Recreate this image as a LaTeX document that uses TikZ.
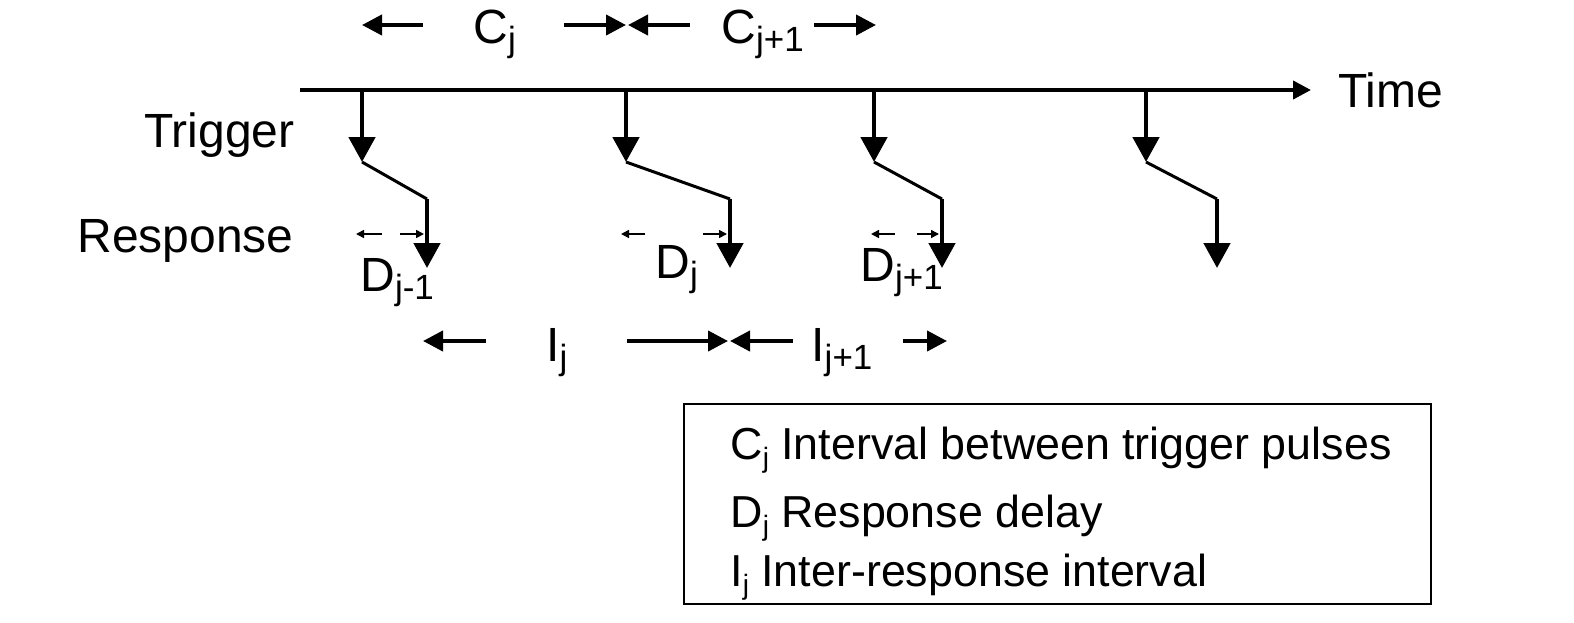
\documentclass[tikz,border=0pt]{standalone}
\usepackage{fontspec}
\setmainfont{Liberation Sans}
\usetikzlibrary{arrows.meta}
\newcommand{\lowidx}[1]{\raisebox{-0.35ex}{\fontsize{17.5}{17.5}\selectfont #1}}
\newcommand{\keyidx}[1]{\raisebox{-0.35ex}{\fontsize{14}{14}\selectfont #1}}

\begin{document}
\begin{tikzpicture}[x=0.5pt, y=-0.5pt,
    lbl/.style={inner sep=0pt, font=\fontsize{24}{28}\selectfont},
    keytext/.style={inner sep=0pt, anchor=base west, font=\fontsize{22.4}{26}\selectfont},
    interval/.style={line width=2pt, -{Triangle[length=10pt, width=10pt]}},
    pulse/.style={line width=2.4pt, -{Triangle[length=12.5pt, width=13pt]}},
    slant/.style={line width=1.5pt},
    lag/.style={line width=0.8pt, -{Triangle[length=4pt, width=4pt]}}]
    \useasboundingbox (0, 0) rectangle (1574, 622);

    \coordinate (axs) at (300, 90);
    \coordinate (axe) at (1311, 90);
    \draw[line width=2pt, -{Triangle[length=9pt, width=9pt]}] (axs) -- (axe);
    \node[lbl, anchor=base west] (time) at (1338, 107) {Time};
    \node[lbl, anchor=base east] (trigger) at (295, 147) {Trigger};
    \node[lbl, anchor=base east] (response) at (294, 252) {Response};

    \coordinate (tr1) at (362, 90);   \coordinate (tt1) at (362, 162);
    \coordinate (tr2) at (626, 90);   \coordinate (tt2) at (626, 162);
    \coordinate (tr3) at (874, 90);   \coordinate (tt3) at (874, 162);
    \coordinate (tr4) at (1146, 90);  \coordinate (tt4) at (1146, 162);
    \coordinate (kn1) at (427, 199);  \coordinate (rt1) at (427, 268);
    \coordinate (kn2) at (730, 199);  \coordinate (rt2) at (730, 268);
    \coordinate (kn3) at (942, 199);  \coordinate (rt3) at (942, 268);
    \coordinate (kn4) at (1217, 199); \coordinate (rt4) at (1217, 268);

    \draw[pulse] (tr1) -- (tt1);
    \draw[pulse] (tr2) -- (tt2);
    \draw[pulse] (tr3) -- (tt3);
    \draw[pulse] (tr4) -- (tt4);
    \draw[slant] (tt1) -- (kn1);
    \draw[slant] (tt2) -- (kn2);
    \draw[slant] (tt3) -- (kn3);
    \draw[slant] (tt4) -- (kn4);
    \draw[pulse] (kn1) -- (rt1);
    \draw[pulse] (kn2) -- (rt2);
    \draw[pulse] (kn3) -- (rt3);
    \draw[pulse] (kn4) -- (rt4);

    \node[lbl, anchor=base west] (cj) at (473, 43) {C\lowidx{j}};
    \node[lbl, anchor=base west] (cj1) at (721, 43) {C\lowidx{j+1}};
    \coordinate (c1) at (362, 25);  \coordinate (c1t) at (423, 25);
    \coordinate (c2) at (626, 25);  \coordinate (c2t) at (564, 25);
    \coordinate (c3) at (628, 25);  \coordinate (c3t) at (690, 25);
    \coordinate (c4) at (876, 25);  \coordinate (c4t) at (814, 25);
    \draw[interval] (c1t) -- (c1);
    \draw[interval] (c2t) -- (c2);
    \draw[interval] (c3t) -- (c3);
    \draw[interval] (c4t) -- (c4);

    \coordinate (d1) at (356, 234);  \coordinate (d1t) at (382, 234);
    \coordinate (d2) at (424, 234);  \coordinate (d2t) at (400, 234);
    \coordinate (d3) at (621, 234);  \coordinate (d3t) at (645, 234);
    \coordinate (d4) at (727, 234);  \coordinate (d4t) at (703, 234);
    \coordinate (d5) at (871, 234);  \coordinate (d5t) at (895, 234);
    \coordinate (d6) at (939, 234);  \coordinate (d6t) at (917, 234);
    \draw[lag] (d1t) -- (d1);
    \draw[lag] (d2t) -- (d2);
    \draw[lag] (d3t) -- (d3);
    \draw[lag] (d4t) -- (d4);
    \draw[lag] (d5t) -- (d5);
    \draw[lag] (d6t) -- (d6);
    \node[lbl, anchor=base west] (dj0) at (360, 291) {D\lowidx{j-1}};
    \node[lbl, anchor=base west] (dj) at (655, 278) {D\lowidx{j}};
    \node[lbl, anchor=base west] (dj1) at (860, 281) {D\lowidx{j+1}};

    \node[lbl, anchor=base west] (ij) at (546, 361) {I\lowidx{j}};
    \node[lbl, anchor=base west] (ij1) at (811, 361) {I\lowidx{j+1}};
    \coordinate (i1) at (423, 341);  \coordinate (i1t) at (486, 341);
    \coordinate (i2) at (728, 341);  \coordinate (i2t) at (627, 341);
    \coordinate (i3) at (730, 341);  \coordinate (i3t) at (793, 341);
    \coordinate (i4) at (947, 341);  \coordinate (i4t) at (903, 341);
    \draw[interval] (i1t) -- (i1);
    \draw[interval] (i2t) -- (i2);
    \draw[interval] (i3t) -- (i3);
    \draw[interval] (i4t) -- (i4);

    \node[draw, line width=1.2pt, inner sep=0pt, minimum width=373.5pt, minimum height=100pt] (legend) at (1057.5, 504) {};
    \node[keytext] (keyc) at (730, 459) {C\keyidx{j} Interval between trigger pulses};
    \node[keytext] (keyd) at (730, 527) {D\keyidx{j} Response delay};
    \node[keytext] (keyi) at (730, 586) {I\keyidx{j} Inter-response interval};
\end{tikzpicture}
\end{document}
